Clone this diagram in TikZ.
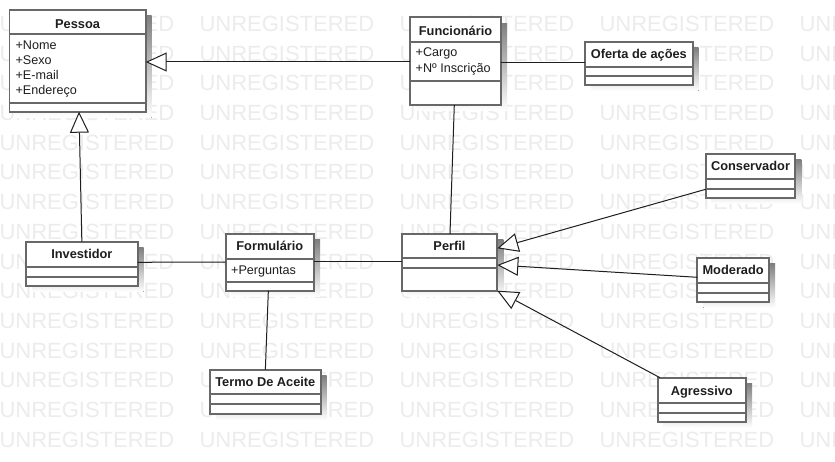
\documentclass[tikz,border=0pt]{standalone}
\usepackage{fontspec}
\setmainfont{Liberation Sans}
\usetikzlibrary{arrows.meta}

\definecolor{boxedge}{HTML}{686868}
\definecolor{ink}{HTML}{1E1E1E}
\definecolor{wmark}{HTML}{ECECEC}
\definecolor{shade}{HTML}{F1F1F1}

\tikzset{
  classbox/.style={draw=boxedge, line width=1.7pt, fill=white, inner sep=0pt, outer sep=0pt},
  divider/.style={draw=boxedge, line width=1.7pt},
  cname/.style={font=\fontsize{12.8}{15}\selectfont\bfseries, text=ink, inner sep=0pt, anchor=base},
  attr/.style={font=\fontsize{12.6}{15}\selectfont, text=ink, inner sep=0pt, anchor=base west},
  assoc/.style={draw=ink, line width=1pt},
  generalize/.style={draw=ink, line width=1pt, -{Triangle[length=21pt, width=19pt, fill=white]}},
  wm/.style={font=\fontsize{22}{26}\selectfont, text=wmark, inner sep=0pt, anchor=base west},
}

% #1 name, #2 left, #3 top, #4 right, #5 bottom, #6 first divider, #7 second divider
\newcommand\umlclass[7]{%
  \fill[shade] ({#2+6},{#3+6}) rectangle ({#4+6},{#5+6});
  \node[classbox, minimum width={(#4-#2)*1pt}, minimum height={(#5-#3)*1pt}]
    (#1) at ({(#2+#4)/2},{(#3+#5)/2}) {};
  \draw[divider] (#2,#6) -- (#4,#6);
  \draw[divider] (#2,#7) -- (#4,#7);
}

\begin{document}
\begin{tikzpicture}[x=1pt,y=-1pt]
  \useasboundingbox (0,0) rectangle (835,462);
  \fill[white] (0,0) rectangle (835,462);

  % background watermark grid
  \begin{scope}
    \clip (0,0) rectangle (835,462);
    \foreach \r in {0,...,14}
      \foreach \c in {0,...,4}
        \node[wm] (wm-\r-\c) at ({-0.7+200*\c},{31.5+29.7*\r}) {UNREGISTERED};
  \end{scope}

  % classes
  \umlclass{pessoa}{9.5}{10}{145.7}{111.7}{34.3}{103.3}
  \node[cname] (pessoa-t) at (77.6,28.3) {Pessoa};
  \node[attr] (pessoa-a1) at (15.4,49.5) {+Nome};
  \node[attr] (pessoa-a2) at (15.4,64.6) {+Sexo};
  \node[attr] (pessoa-a3) at (15.4,79.7) {+E-mail};
  \node[attr] (pessoa-a4) at (15.4,94.7) {+Endereço};

  \umlclass{func}{410}{17.3}{501}{105}{42.3}{80.7}
  \node[cname] (func-t) at (455.5,35.7) {Funcionário};
  \node[attr] (func-a1) at (415.5,57) {+Cargo};
  \node[attr] (func-a2) at (415.5,72.3) {+Nº Inscrição};

  \umlclass{oferta}{585}{41.7}{692.7}{85}{66.7}{76}
  \node[cname] (oferta-t) at (638.85,58.3) {Oferta de ações};

  \umlclass{inv}{26}{241.7}{137.7}{285.7}{266.7}{276.7}
  \node[cname] (inv-t) at (81.85,259) {Investidor};

  \umlclass{form}{225.7}{234}{314}{290.7}{259}{281.7}
  \node[cname] (form-t) at (269.85,251) {Formulário};
  \node[attr] (form-a1) at (231,274.5) {+Perguntas};

  \umlclass{termo}{210}{369.7}{320.7}{414}{394}{404}
  \node[cname] (termo-t) at (265.35,386.7) {Termo De Aceite};

  \umlclass{perfil}{401.7}{234}{497.3}{290.7}{258.3}{268.3}
  \node[cname] (perfil-t) at (449.5,251) {Perfil};

  \umlclass{cons}{705.7}{154}{795.3}{197.7}{179}{189}
  \node[cname] (cons-t) at (750.5,171) {Conservador};

  \umlclass{mod}{697.3}{257.7}{769}{301.7}{283.3}{292.7}
  \node[cname] (mod-t) at (733.15,275) {Moderado};

  \umlclass{agr}{657.7}{377.7}{746}{421.7}{402.7}{412.7}
  \node[cname] (agr-t) at (701.85,395) {Agressivo};

  % relations
  \draw[generalize] ([yshift=-44.7pt]func.north west) -- ([yshift=-52pt]pessoa.north east);
  \draw[assoc] ([yshift=-45pt]func.north east) -- ([yshift=-20.6pt]oferta.north west);
  \draw[assoc] ([xshift=-1.2pt]func.south) -- ([xshift=0.5pt]perfil.north);
  \draw[generalize] (inv.north) -- ([xshift=1.4pt]pessoa.south);
  \draw[assoc] ([yshift=-20.6pt]inv.north east) -- ([yshift=-28pt]form.north west);
  \draw[assoc] ([yshift=-28pt]form.north east) -- ([yshift=-28pt]perfil.north west);
  \draw[assoc] ([xshift=-1.5pt]form.south) -- (termo.north);
  \draw[generalize] ([yshift=-35.3pt]cons.north west) -- ([yshift=-14.3pt]perfil.north east);
  \draw[generalize] ([yshift=-19.6pt]mod.north west) -- ([yshift=-31pt]perfil.north east);
  \draw[generalize] ([xshift=2.3pt]agr.north west) -- (perfil.south east);
\end{tikzpicture}
\end{document}
